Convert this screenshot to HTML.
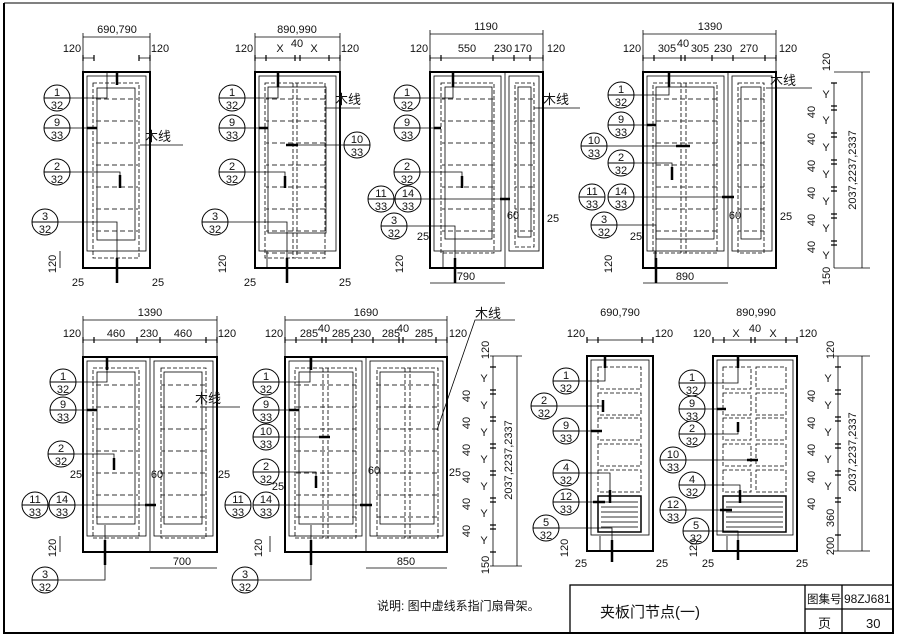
<!DOCTYPE html>
<html><head><meta charset="utf-8"><style>
html,body{margin:0;padding:0;background:#fff;}
svg{display:block;}
text{font-family:"Liberation Sans","Noto Sans CJK SC",sans-serif;fill:#111;}
.t{font-size:11px;text-anchor:middle;}
.c text{font-size:11px;text-anchor:middle;}
.cn{font-size:13px;}
</style></head><body>
<svg width="900" height="636" viewBox="0 0 900 636" xmlns="http://www.w3.org/2000/svg">
<defs>
<pattern id="hl" width="8" height="22" patternUnits="userSpaceOnUse">
<line x1="0" y1="11" x2="5" y2="11" stroke="#333" stroke-width="1"/>
</pattern>
<pattern id="hs" width="4" height="5" patternUnits="userSpaceOnUse">
<line x1="0" y1="2" x2="4" y2="2" stroke="#333" stroke-width="1"/>
</pattern>
</defs>
<rect width="900" height="636" fill="#fff"/>
<line x1="4" y1="3" x2="4" y2="634" stroke="#000" stroke-width="2"/>
<line x1="4" y1="3" x2="894" y2="3" stroke="#000" stroke-width="1"/>
<line x1="893" y1="3" x2="893" y2="634" stroke="#000" stroke-width="2"/>
<line x1="4" y1="633" x2="894" y2="633" stroke="#000" stroke-width="2"/>
<g stroke="#000" fill="none" stroke-width="1.3">
<rect x="570" y="585" width="323" height="48"/>
<line x1="805" y1="585" x2="805" y2="633"/>
<line x1="842" y1="585" x2="842" y2="633"/>
<line x1="805" y1="609" x2="893" y2="609"/>
</g>
<text x="600" y="617" class="cn" style="font-size:15px">夹板门节点(一)</text>
<text x="807" y="603" style="font-size:11.5px">图集号</text>
<text x="844" y="603" style="font-size:12px">98ZJ681</text>
<text x="818" y="628" style="font-size:13px">页</text>
<text x="866" y="628" style="font-size:13px">30</text>
<text x="377" y="610" style="font-size:12px">说明: 图中虚线系指门扇骨架。</text>

<g stroke="#000" fill="none">
<rect x="83" y="72" width="67" height="196" stroke-width="2"/>
<rect x="87" y="76" width="59" height="175" stroke-width="0.8"/>
<rect x="93" y="83" width="46" height="175" stroke-dasharray="4,2" stroke-width="0.8"/>
<rect x="97" y="88" width="38" height="152" stroke-width="0.8"/>
<rect x="94" y="88" width="44" height="152" fill="url(#hl)" stroke="none"/>
<rect x="255" y="72" width="85" height="196" stroke-width="2"/>
<rect x="259" y="76" width="77" height="175" stroke-width="0.8"/>
<rect x="265" y="83" width="60" height="175" stroke-dasharray="4,2" stroke-width="0.8"/>
<rect x="268" y="87" width="58" height="146" stroke-width="0.8"/>
<line x1="293" y1="83" x2="293" y2="258" stroke-dasharray="4,2" stroke-width="0.8"/>
<line x1="297" y1="83" x2="297" y2="258" stroke-dasharray="4,2" stroke-width="0.8"/>
<rect x="266" y="88" width="60" height="168" fill="url(#hl)" stroke="none"/>
<rect x="430" y="72" width="113" height="196" stroke-width="2"/>
<line x1="505" y1="72" x2="505" y2="268" stroke-width="0.8"/>
<rect x="434" y="76" width="67" height="175" stroke-width="0.8"/>
<rect x="509" y="76" width="30" height="175" stroke-width="0.8"/>
<rect x="441" y="83" width="53" height="170" stroke-dasharray="4,2" stroke-width="0.8"/>
<rect x="445" y="87" width="47" height="152" stroke-width="0.8"/>
<rect x="515" y="83" width="19" height="164" stroke-dasharray="4,2" stroke-width="0.8"/>
<rect x="518" y="87" width="13" height="150" stroke-width="0.8"/>
<rect x="442" y="88" width="52" height="162" fill="url(#hl)" stroke="none"/>
<rect x="515" y="88" width="19" height="158" fill="url(#hl)" stroke="none"/>
<rect x="643" y="72" width="133" height="196" stroke-width="2"/>
<line x1="728" y1="72" x2="728" y2="268" stroke-width="0.8"/>
<rect x="647" y="76" width="77" height="175" stroke-width="0.8"/>
<rect x="732" y="76" width="40" height="175" stroke-width="0.8"/>
<rect x="653" y="83" width="64" height="170" stroke-dasharray="4,2" stroke-width="0.8"/>
<rect x="656" y="87" width="58" height="152" stroke-width="0.8"/>
<line x1="681" y1="83" x2="681" y2="253" stroke-dasharray="4,2" stroke-width="0.8"/>
<line x1="686" y1="83" x2="686" y2="253" stroke-dasharray="4,2" stroke-width="0.8"/>
<rect x="738" y="83" width="26" height="170" stroke-dasharray="4,2" stroke-width="0.8"/>
<rect x="741" y="87" width="20" height="152" stroke-width="0.8"/>
<rect x="654" y="88" width="63" height="162" fill="url(#hl)" stroke="none"/>
<rect x="738" y="88" width="26" height="162" fill="url(#hl)" stroke="none"/>
<rect x="83" y="357" width="134" height="195" stroke-width="2"/>
<line x1="150" y1="357" x2="150" y2="552" stroke-width="0.8"/>
<rect x="87" y="361" width="59" height="175" stroke-width="0.8"/>
<rect x="154" y="361" width="59" height="175" stroke-width="0.8"/>
<rect x="93" y="368" width="46" height="170" stroke-dasharray="4,2" stroke-width="0.8"/>
<rect x="97" y="372" width="38" height="152" stroke-width="0.8"/>
<rect x="161" y="368" width="45" height="170" stroke-dasharray="4,2" stroke-width="0.8"/>
<rect x="164" y="372" width="38" height="152" stroke-width="0.8"/>
<rect x="94" y="373" width="44" height="162" fill="url(#hl)" stroke="none"/>
<rect x="161" y="373" width="44" height="162" fill="url(#hl)" stroke="none"/>
<rect x="285" y="357" width="162" height="195" stroke-width="2"/>
<line x1="366" y1="357" x2="366" y2="552" stroke-width="0.8"/>
<rect x="289" y="361" width="73" height="175" stroke-width="0.8"/>
<rect x="370" y="361" width="73" height="175" stroke-width="0.8"/>
<rect x="295" y="368" width="61" height="170" stroke-dasharray="4,2" stroke-width="0.8"/>
<rect x="299" y="372" width="54" height="152" stroke-width="0.8"/>
<line x1="323" y1="368" x2="323" y2="538" stroke-dasharray="4,2" stroke-width="0.8"/>
<line x1="328" y1="368" x2="328" y2="538" stroke-dasharray="4,2" stroke-width="0.8"/>
<rect x="377" y="368" width="61" height="170" stroke-dasharray="4,2" stroke-width="0.8"/>
<rect x="380" y="372" width="54" height="152" stroke-width="0.8"/>
<line x1="405" y1="368" x2="405" y2="538" stroke-dasharray="4,2" stroke-width="0.8"/>
<line x1="410" y1="368" x2="410" y2="538" stroke-dasharray="4,2" stroke-width="0.8"/>
<rect x="296" y="373" width="60" height="162" fill="url(#hl)" stroke="none"/>
<rect x="377" y="373" width="60" height="162" fill="url(#hl)" stroke="none"/>
<rect x="587" y="356" width="66" height="195" stroke-width="2"/>
<rect x="591" y="360" width="58" height="175" stroke-width="0.8"/>
<rect x="598" y="367" width="43" height="22" stroke-dasharray="4,2" stroke-width="0.8"/>
<rect x="598" y="393" width="43" height="22" stroke-dasharray="4,2" stroke-width="0.8"/>
<rect x="598" y="418" width="43" height="22" stroke-dasharray="4,2" stroke-width="0.8"/>
<rect x="598" y="444" width="43" height="22" stroke-dasharray="4,2" stroke-width="0.8"/>
<rect x="598" y="470" width="43" height="22" stroke-dasharray="4,2" stroke-width="0.8"/>
<rect x="598" y="496" width="43" height="36" stroke-width="1.5"/>
<rect x="601" y="499" width="37" height="30" fill="url(#hs)" stroke="none"/>
<rect x="713" y="356" width="84" height="195" stroke-width="2"/>
<rect x="717" y="360" width="76" height="175" stroke-width="0.8"/>
<rect x="723" y="367" width="28" height="22" stroke-dasharray="4,2" stroke-width="0.8"/>
<rect x="756" y="367" width="30" height="22" stroke-dasharray="4,2" stroke-width="0.8"/>
<rect x="723" y="393" width="28" height="22" stroke-dasharray="4,2" stroke-width="0.8"/>
<rect x="756" y="393" width="30" height="22" stroke-dasharray="4,2" stroke-width="0.8"/>
<rect x="723" y="418" width="28" height="22" stroke-dasharray="4,2" stroke-width="0.8"/>
<rect x="756" y="418" width="30" height="22" stroke-dasharray="4,2" stroke-width="0.8"/>
<rect x="723" y="444" width="28" height="22" stroke-dasharray="4,2" stroke-width="0.8"/>
<rect x="756" y="444" width="30" height="22" stroke-dasharray="4,2" stroke-width="0.8"/>
<rect x="723" y="470" width="28" height="22" stroke-dasharray="4,2" stroke-width="0.8"/>
<rect x="756" y="470" width="30" height="22" stroke-dasharray="4,2" stroke-width="0.8"/>
<rect x="723" y="496" width="63" height="36" stroke-width="1.5"/>
<rect x="726" y="499" width="57" height="30" fill="url(#hs)" stroke="none"/>
</g>

<g class="c" stroke="#000" fill="none" stroke-width="1">
<g transform="translate(57,98)"><circle r="13" fill="#fff"/><line x1="-13" x2="13"/></g>
<g transform="translate(57,128)"><circle r="13" fill="#fff"/><line x1="-13" x2="13"/></g>
<g transform="translate(57,172)"><circle r="13" fill="#fff"/><line x1="-13" x2="13"/></g>
<g transform="translate(45,222)"><circle r="13" fill="#fff"/><line x1="-13" x2="13"/></g>
<g transform="translate(232,98)"><circle r="13" fill="#fff"/><line x1="-13" x2="13"/></g>
<g transform="translate(232,128)"><circle r="13" fill="#fff"/><line x1="-13" x2="13"/></g>
<g transform="translate(232,172)"><circle r="13" fill="#fff"/><line x1="-13" x2="13"/></g>
<g transform="translate(215,222)"><circle r="13" fill="#fff"/><line x1="-13" x2="13"/></g>
<g transform="translate(357,145)"><circle r="13" fill="#fff"/><line x1="-13" x2="13"/></g>
<g transform="translate(407,98)"><circle r="13" fill="#fff"/><line x1="-13" x2="13"/></g>
<g transform="translate(407,128)"><circle r="13" fill="#fff"/><line x1="-13" x2="13"/></g>
<g transform="translate(407,172)"><circle r="13" fill="#fff"/><line x1="-13" x2="13"/></g>
<g transform="translate(381,199)"><circle r="13" fill="#fff"/><line x1="-13" x2="13"/></g>
<g transform="translate(408,199)"><circle r="13" fill="#fff"/><line x1="-13" x2="13"/></g>
<g transform="translate(394,226)"><circle r="13" fill="#fff"/><line x1="-13" x2="13"/></g>
<g transform="translate(621,95)"><circle r="13" fill="#fff"/><line x1="-13" x2="13"/></g>
<g transform="translate(621,125)"><circle r="13" fill="#fff"/><line x1="-13" x2="13"/></g>
<g transform="translate(594,146)"><circle r="13" fill="#fff"/><line x1="-13" x2="13"/></g>
<g transform="translate(621,163)"><circle r="13" fill="#fff"/><line x1="-13" x2="13"/></g>
<g transform="translate(592,197)"><circle r="13" fill="#fff"/><line x1="-13" x2="13"/></g>
<g transform="translate(621,197)"><circle r="13" fill="#fff"/><line x1="-13" x2="13"/></g>
<g transform="translate(604,225)"><circle r="13" fill="#fff"/><line x1="-13" x2="13"/></g>
<g transform="translate(63,382)"><circle r="13" fill="#fff"/><line x1="-13" x2="13"/></g>
<g transform="translate(63,410)"><circle r="13" fill="#fff"/><line x1="-13" x2="13"/></g>
<g transform="translate(61,454)"><circle r="13" fill="#fff"/><line x1="-13" x2="13"/></g>
<g transform="translate(35,505)"><circle r="13" fill="#fff"/><line x1="-13" x2="13"/></g>
<g transform="translate(62,505)"><circle r="13" fill="#fff"/><line x1="-13" x2="13"/></g>
<g transform="translate(45,580)"><circle r="13" fill="#fff"/><line x1="-13" x2="13"/></g>
<g transform="translate(266,382)"><circle r="13" fill="#fff"/><line x1="-13" x2="13"/></g>
<g transform="translate(266,410)"><circle r="13" fill="#fff"/><line x1="-13" x2="13"/></g>
<g transform="translate(266,437)"><circle r="13" fill="#fff"/><line x1="-13" x2="13"/></g>
<g transform="translate(266,472)"><circle r="13" fill="#fff"/><line x1="-13" x2="13"/></g>
<g transform="translate(238,505)"><circle r="13" fill="#fff"/><line x1="-13" x2="13"/></g>
<g transform="translate(266,505)"><circle r="13" fill="#fff"/><line x1="-13" x2="13"/></g>
<g transform="translate(245,580)"><circle r="13" fill="#fff"/><line x1="-13" x2="13"/></g>
<g transform="translate(566,381)"><circle r="13" fill="#fff"/><line x1="-13" x2="13"/></g>
<g transform="translate(544,406)"><circle r="13" fill="#fff"/><line x1="-13" x2="13"/></g>
<g transform="translate(566,431)"><circle r="13" fill="#fff"/><line x1="-13" x2="13"/></g>
<g transform="translate(566,473)"><circle r="13" fill="#fff"/><line x1="-13" x2="13"/></g>
<g transform="translate(566,502)"><circle r="13" fill="#fff"/><line x1="-13" x2="13"/></g>
<g transform="translate(546,528)"><circle r="13" fill="#fff"/><line x1="-13" x2="13"/></g>
<g transform="translate(692,383)"><circle r="13" fill="#fff"/><line x1="-13" x2="13"/></g>
<g transform="translate(692,409)"><circle r="13" fill="#fff"/><line x1="-13" x2="13"/></g>
<g transform="translate(692,434)"><circle r="13" fill="#fff"/><line x1="-13" x2="13"/></g>
<g transform="translate(673,460)"><circle r="13" fill="#fff"/><line x1="-13" x2="13"/></g>
<g transform="translate(692,485)"><circle r="13" fill="#fff"/><line x1="-13" x2="13"/></g>
<g transform="translate(673,510)"><circle r="13" fill="#fff"/><line x1="-13" x2="13"/></g>
<g transform="translate(696,531)"><circle r="13" fill="#fff"/><line x1="-13" x2="13"/></g>
</g>
<g class="c">
<text x="57" y="96" class="t">1</text><text x="57" y="109" class="t">32</text>
<text x="57" y="126" class="t">9</text><text x="57" y="139" class="t">33</text>
<text x="57" y="170" class="t">2</text><text x="57" y="183" class="t">32</text>
<text x="45" y="220" class="t">3</text><text x="45" y="233" class="t">32</text>
<text x="232" y="96" class="t">1</text><text x="232" y="109" class="t">32</text>
<text x="232" y="126" class="t">9</text><text x="232" y="139" class="t">33</text>
<text x="232" y="170" class="t">2</text><text x="232" y="183" class="t">32</text>
<text x="215" y="220" class="t">3</text><text x="215" y="233" class="t">32</text>
<text x="357" y="143" class="t">10</text><text x="357" y="156" class="t">33</text>
<text x="407" y="96" class="t">1</text><text x="407" y="109" class="t">32</text>
<text x="407" y="126" class="t">9</text><text x="407" y="139" class="t">33</text>
<text x="407" y="170" class="t">2</text><text x="407" y="183" class="t">32</text>
<text x="381" y="197" class="t">11</text><text x="381" y="210" class="t">33</text>
<text x="408" y="197" class="t">14</text><text x="408" y="210" class="t">33</text>
<text x="394" y="224" class="t">3</text><text x="394" y="237" class="t">32</text>
<text x="621" y="93" class="t">1</text><text x="621" y="106" class="t">32</text>
<text x="621" y="123" class="t">9</text><text x="621" y="136" class="t">33</text>
<text x="594" y="144" class="t">10</text><text x="594" y="157" class="t">33</text>
<text x="621" y="161" class="t">2</text><text x="621" y="174" class="t">32</text>
<text x="592" y="195" class="t">11</text><text x="592" y="208" class="t">33</text>
<text x="621" y="195" class="t">14</text><text x="621" y="208" class="t">33</text>
<text x="604" y="223" class="t">3</text><text x="604" y="236" class="t">32</text>
<text x="63" y="380" class="t">1</text><text x="63" y="393" class="t">32</text>
<text x="63" y="408" class="t">9</text><text x="63" y="421" class="t">33</text>
<text x="61" y="452" class="t">2</text><text x="61" y="465" class="t">32</text>
<text x="35" y="503" class="t">11</text><text x="35" y="516" class="t">33</text>
<text x="62" y="503" class="t">14</text><text x="62" y="516" class="t">33</text>
<text x="45" y="578" class="t">3</text><text x="45" y="591" class="t">32</text>
<text x="266" y="380" class="t">1</text><text x="266" y="393" class="t">32</text>
<text x="266" y="408" class="t">9</text><text x="266" y="421" class="t">33</text>
<text x="266" y="435" class="t">10</text><text x="266" y="448" class="t">33</text>
<text x="266" y="470" class="t">2</text><text x="266" y="483" class="t">32</text>
<text x="238" y="503" class="t">11</text><text x="238" y="516" class="t">33</text>
<text x="266" y="503" class="t">14</text><text x="266" y="516" class="t">33</text>
<text x="245" y="578" class="t">3</text><text x="245" y="591" class="t">32</text>
<text x="566" y="379" class="t">1</text><text x="566" y="392" class="t">32</text>
<text x="544" y="404" class="t">2</text><text x="544" y="417" class="t">32</text>
<text x="566" y="429" class="t">9</text><text x="566" y="442" class="t">33</text>
<text x="566" y="471" class="t">4</text><text x="566" y="484" class="t">32</text>
<text x="566" y="500" class="t">12</text><text x="566" y="513" class="t">33</text>
<text x="546" y="526" class="t">5</text><text x="546" y="539" class="t">32</text>
<text x="692" y="381" class="t">1</text><text x="692" y="394" class="t">32</text>
<text x="692" y="407" class="t">9</text><text x="692" y="420" class="t">33</text>
<text x="692" y="432" class="t">2</text><text x="692" y="445" class="t">32</text>
<text x="673" y="458" class="t">10</text><text x="673" y="471" class="t">33</text>
<text x="692" y="483" class="t">4</text><text x="692" y="496" class="t">32</text>
<text x="673" y="508" class="t">12</text><text x="673" y="521" class="t">33</text>
<text x="696" y="529" class="t">5</text><text x="696" y="542" class="t">32</text>
</g>

<g stroke="#000" fill="none" stroke-width="0.8">
<path d="M70 98H107V72M70 128H97M70 172H120V180M58 222H117V268"/>
<path d="M245 98H278V72M245 128H268M245 172H285V180M228 222H287V268M344 145H292"/>
<path d="M420 98H453V72M420 128H441M420 172H462V180M421 199H505M407 226H455V268"/>
<path d="M634 95H669V72M634 125H656M607 146H686M634 163H672V172M634 197H728M617 225H656V268"/>
<path d="M76 382H107V357M76 410H97M74 454H114V462M75 505H150M58 580H105V525"/>
<path d="M279 382H310V357M279 410H299M279 437H326M279 472H316V480M279 505H366M258 580H311V525"/>
<path d="M579 381H605V356M557 406H603V403M579 431H598M579 473H610V496M579 502H601M559 528H612V551"/>
<path d="M705 383H738V356M705 409H723M705 434H738V427M686 460H756M705 485H740V496M686 510H726M709 531H738V551"/>
<path d="M140 145H183M326 108H360M534 108H580M766 88H812M203 407H240M437 430L475 320H515"/>
</g>
<g stroke="#000" stroke-width="2.5">
<path d="M117 72V85M117 258V283M87 128H97M120 175V188M278 72V87M287 258V283M259 128H268M285 176V188M286 145H298M453 72V87M455 258V283M434 128H441M462 176V188M500 199H510M669 72V87M656 258V283M647 125H656M672 167V180M676 146H690M722 197H734"/>
<path d="M107 357V370M105 540V565M87 410H97M114 458V470M145 505H156M311 357V370M311 540V565M289 410H299M319 437H330M316 476V488M360 505H372M605 356V368M603 400V412M591 431H602M610 490V503M593 502H605M612 540V562M738 356V368M717 409H726M738 422V432M747 460H758M740 490V503M720 510H732M738 540V560"/>
</g>

<g stroke="#000" stroke-width="0.8" fill="none">
<path d="M83 37H150M83 33V72M150 33V72M83 58H94M139 58H150"/>
<path d="M255 37H340M255 33V72M340 33V72M255 58H340"/>
<path d="M430 34H543M430 30V72M543 30V72M430 58H543"/>
<path d="M643 34H776M643 30V72M776 30V72M643 58H776"/>
<path d="M83 320H217M83 316V357M217 316V357M83 340H217"/>
<path d="M285 320H447M285 316V357M447 316V357M285 340H447"/>
<path d="M587 340H653M713 340H797"/>
<path d="M430 283H505M643 283H728M150 568H217M366 568H447"/>
<path d="M862 72V268M834 72H870M834 268H870M834 83V268"/>
<path d="M862 356V551M834 356H870M834 551H870M838 356V551"/>
<path d="M517 356V566M490 356H522M490 566H522M493 356V566"/>
<path d="M60 251V268M60 536V552M267 251V268M270 536V552M443 251V268M655 251V268M600 536V551M727 536V551"/>
</g>
<g stroke="#000" stroke-width="1.2">
<path d="M83 55V61M94 55V61M139 55V61M150 55V61M255 55V61M266 55V61M295 55V61M300 55V61M329 55V61M340 55V61"/>
<path d="M430 55V61M441 55V61M493 55V61M514 55V61M530 55V61M543 55V61M643 55V61M654 55V61M681 55V61M685 55V61M712 55V61M733 55V61M765 55V61M776 55V61"/>
<path d="M83 337V343M94 337V343M137 337V343M160 337V343M206 337V343M217 337V343M285 337V343M296 337V343M322 337V343M326 337V343M352 337V343M373 337V343M399 337V343M403 337V343M436 337V343M447 337V343"/>
<path d="M587 337V343M598 337V343M642 337V343M653 337V343M713 337V343M724 337V343M751 337V343M755 337V343M786 337V343M797 337V343"/>
<path d="M831 83H837M831 106H837M831 110H837M831 133H837M831 137H837M831 160H837M831 164H837M831 187H837M831 191H837M831 214H837M831 218H837M831 241H837M831 245H837"/>
<path d="M835 367H841M835 390H841M835 394H841M835 417H841M835 421H841M835 444H841M835 448H841M835 471H841M835 475H841M835 498H841M835 502H841M835 535H841"/>
<path d="M490 367H496M490 390H496M490 394H496M490 417H496M490 421H496M490 444H496M490 448H496M490 471H496M490 475H496M490 498H496M490 502H496M490 525H496M490 529H496M490 552H496"/>
</g>

<g class="t">
<text x="117" y="33" class="t">690,790</text>
<text x="72" y="52" class="t">120</text><text x="160" y="52" class="t">120</text>
<text x="297" y="33" class="t">890,990</text>
<text x="244" y="52" class="t">120</text><text x="350" y="52" class="t">120</text>
<text x="280" y="52" class="t">X</text><text x="297" y="47" class="t">40</text><text x="314" y="52" class="t">X</text>
<text x="486" y="30" class="t">1190</text>
<text x="419" y="52" class="t">120</text><text x="467" y="52" class="t">550</text><text x="503" y="52" class="t">230</text><text x="523" y="52" class="t">170</text><text x="556" y="52" class="t">120</text>
<text x="710" y="30" class="t">1390</text>
<text x="632" y="52" class="t">120</text><text x="667" y="52" class="t">305</text><text x="683" y="47" class="t">40</text><text x="700" y="52" class="t">305</text><text x="723" y="52" class="t">230</text><text x="749" y="52" class="t">270</text><text x="788" y="52" class="t">120</text>
<text x="150" y="316" class="t">1390</text>
<text x="72" y="337" class="t">120</text><text x="116" y="337" class="t">460</text><text x="149" y="337" class="t">230</text><text x="183" y="337" class="t">460</text><text x="227" y="337" class="t">120</text>
<text x="366" y="316" class="t">1690</text>
<text x="274" y="337" class="t">120</text><text x="309" y="337" class="t">285</text><text x="324" y="332" class="t">40</text><text x="341" y="337" class="t">285</text><text x="362" y="337" class="t">230</text><text x="391" y="337" class="t">285</text><text x="403" y="332" class="t">40</text><text x="424" y="337" class="t">285</text><text x="458" y="337" class="t">120</text>
<text x="620" y="316" class="t">690,790</text>
<text x="576" y="337" class="t">120</text><text x="664" y="337" class="t">120</text>
<text x="756" y="316" class="t">890,990</text>
<text x="702" y="337" class="t">120</text><text x="736" y="337" class="t">X</text><text x="755" y="332" class="t">40</text><text x="773" y="337" class="t">X</text><text x="808" y="337" class="t">120</text>
<text x="466" y="280" class="t">790</text><text x="685" y="280" class="t">890</text>
<text x="182" y="565" class="t">700</text><text x="406" y="565" class="t">850</text>
<text x="78" y="286" class="t">25</text><text x="158" y="286" class="t">25</text>
<text x="250" y="286" class="t">25</text><text x="345" y="286" class="t">25</text>
<text x="423" y="240" class="t">25</text><text x="553" y="222" class="t">25</text><text x="513" y="219" class="t">60</text>
<text x="636" y="240" class="t">25</text><text x="786" y="220" class="t">25</text><text x="735" y="219" class="t">60</text>
<text x="76" y="478" class="t">25</text><text x="224" y="478" class="t">25</text><text x="157" y="478" class="t">60</text>
<text x="278" y="490" class="t">25</text><text x="455" y="476" class="t">25</text><text x="374" y="474" class="t">60</text>
<text x="581" y="567" class="t">25</text><text x="662" y="567" class="t">25</text><text x="708" y="567" class="t">25</text><text x="802" y="567" class="t">25</text>
<text x="158" y="141" class="cn">木线</text><text x="348" y="104" class="cn">木线</text><text x="556" y="104" class="cn">木线</text><text x="783" y="85" class="cn">木线</text>
<text x="208" y="403" class="cn">木线</text><text x="488" y="318" class="cn">木线</text>
<text transform="translate(856,170) rotate(-90)" class="t">2037,2237,2337</text>
<text transform="translate(856,452) rotate(-90)" class="t">2037,2237,2337</text>
<text transform="translate(512,460) rotate(-90)" class="t">2037,2237,2337</text>
<text transform="translate(830,62) rotate(-90)" class="t">120</text>
<text transform="translate(830,276) rotate(-90)" class="t">150</text>
<text transform="translate(834,350) rotate(-90)" class="t">120</text>
<text transform="translate(834,518) rotate(-90)" class="t">360</text>
<text transform="translate(834,546) rotate(-90)" class="t">200</text>
<text transform="translate(489,350) rotate(-90)" class="t">120</text>
<text transform="translate(489,565) rotate(-90)" class="t">150</text>
<text transform="translate(56,264) rotate(-90)" class="t">120</text>
<text transform="translate(226,264) rotate(-90)" class="t">120</text>
<text transform="translate(403,264) rotate(-90)" class="t">120</text>
<text transform="translate(612,264) rotate(-90)" class="t">120</text>
<text transform="translate(56,548) rotate(-90)" class="t">120</text>
<text transform="translate(262,548) rotate(-90)" class="t">120</text>
<text transform="translate(568,548) rotate(-90)" class="t">120</text>
<text transform="translate(697,548) rotate(-90)" class="t">120</text>
<text x="826" y="98" class="t">Y</text><text x="826" y="124" class="t">Y</text><text x="826" y="151" class="t">Y</text><text x="826" y="178" class="t">Y</text><text x="826" y="205" class="t">Y</text><text x="826" y="232" class="t">Y</text><text x="826" y="259" class="t">Y</text>
<text transform="translate(815,112) rotate(-90)" class="t">40</text><text transform="translate(815,139) rotate(-90)" class="t">40</text><text transform="translate(815,166) rotate(-90)" class="t">40</text><text transform="translate(815,193) rotate(-90)" class="t">40</text><text transform="translate(815,220) rotate(-90)" class="t">40</text><text transform="translate(815,247) rotate(-90)" class="t">40</text>
<text x="828" y="382" class="t">Y</text><text x="828" y="409" class="t">Y</text><text x="828" y="436" class="t">Y</text><text x="828" y="463" class="t">Y</text><text x="828" y="490" class="t">Y</text>
<text transform="translate(815,396) rotate(-90)" class="t">40</text><text transform="translate(815,423) rotate(-90)" class="t">40</text><text transform="translate(815,450) rotate(-90)" class="t">40</text><text transform="translate(815,477) rotate(-90)" class="t">40</text><text transform="translate(815,504) rotate(-90)" class="t">40</text>
<text x="484" y="382" class="t">Y</text><text x="484" y="409" class="t">Y</text><text x="484" y="436" class="t">Y</text><text x="484" y="463" class="t">Y</text><text x="484" y="490" class="t">Y</text><text x="484" y="517" class="t">Y</text><text x="484" y="544" class="t">Y</text>
<text transform="translate(470,396) rotate(-90)" class="t">40</text><text transform="translate(470,423) rotate(-90)" class="t">40</text><text transform="translate(470,450) rotate(-90)" class="t">40</text><text transform="translate(470,477) rotate(-90)" class="t">40</text><text transform="translate(470,504) rotate(-90)" class="t">40</text><text transform="translate(470,531) rotate(-90)" class="t">40</text>
</g>
</svg>
</body></html>
